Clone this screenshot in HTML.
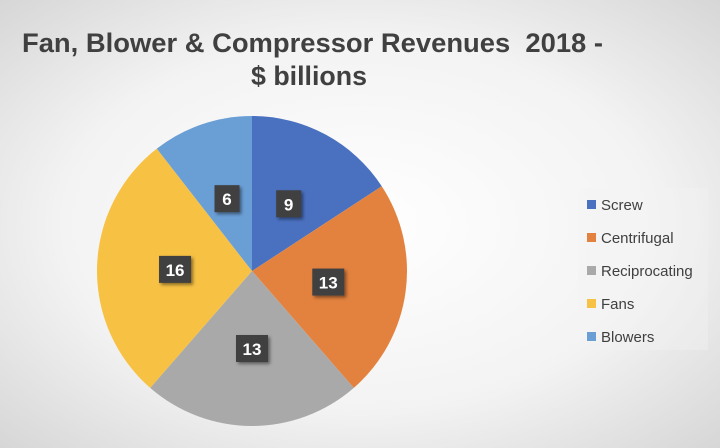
<!DOCTYPE html>
<html><head><meta charset="utf-8"><style>
html,body{margin:0;padding:0;width:720px;height:448px;overflow:hidden}
svg{display:block}
</style></head><body>
<svg id="chart" width="720" height="448" viewBox="0 0 720 448" xmlns="http://www.w3.org/2000/svg" font-family="'Liberation Sans', sans-serif">
<defs>
<radialGradient id="bg" cx="50%" cy="50%" r="75%">
<stop offset="0%" stop-color="#ffffff"/><stop offset="55%" stop-color="#f3f3f3"/><stop offset="100%" stop-color="#d2d2d2"/>
</radialGradient>
<filter id="sh" x="-30%" y="-30%" width="170%" height="170%"><feDropShadow dx="2" dy="2" stdDeviation="1.5" flood-color="#000" flood-opacity="0.45"/></filter>
</defs>
<rect width="720" height="448" fill="url(#bg)"/>
<text x="22" y="52" font-size="27" font-weight="bold" fill="#404040" textLength="581" lengthAdjust="spacingAndGlyphs">Fan, Blower &amp; Compressor Revenues&#160; 2018 -</text>
<text x="251" y="85" font-size="27" font-weight="bold" fill="#404040" textLength="116" lengthAdjust="spacingAndGlyphs">$ billions</text>
<g id="slices"></g>
<g id="labels"></g>
<rect x="578" y="188" width="130" height="162" fill="#f4f4f4" opacity="0.35"/>
<g id="legend"></g>
</svg>
<script>
const categories=["Screw","Centrifugal","Reciprocating","Fans","Blowers"];
const values=[9,13,13,16,6];
const sliceColors=["#4a70c0","#e3823f","#a9a9a9","#f7c143","#6a9fd6"];
const NS="http://www.w3.org/2000/svg";
const cx=252,cy=271,r=155,lr=77;
const total=values.reduce((a,b)=>a+b,0);
const gS=document.getElementById('slices'),gL=document.getElementById('labels'),gLeg=document.getElementById('legend');
function pt(a,rad){return [cx+rad*Math.sin(a),cy-rad*Math.cos(a)];}
let acc=0;
values.forEach((v,i)=>{
  const a0=acc/total*2*Math.PI;acc+=v;const a1=acc/total*2*Math.PI;
  const p0=pt(a0,r),p1=pt(a1,r);
  const p=document.createElementNS(NS,'path');
  p.setAttribute('d',`M${cx},${cy}L${p0[0]},${p0[1]}A${r},${r} 0 ${a1-a0>Math.PI?1:0} 1 ${p1[0]},${p1[1]}Z`);
  p.setAttribute('fill',sliceColors[i]);
  
  
  gS.appendChild(p);
  const m=pt((a0+a1)/2,lr);
  const g=document.createElementNS(NS,'g');
  
  
  const w=String(v).length>1?32:25;
  const b=document.createElementNS(NS,'rect');
  b.setAttribute('x',m[0]-w/2);b.setAttribute('y',m[1]-13);b.setAttribute('width',w);b.setAttribute('height',27);
  b.setAttribute('fill','#3f3f3f');b.setAttribute('filter','url(#sh)');
  g.appendChild(b);
  const t=document.createElementNS(NS,'text');
  t.setAttribute('x',m[0]);t.setAttribute('y',m[1]+7);t.setAttribute('text-anchor','middle');
  t.setAttribute('font-size','17');t.setAttribute('font-weight','bold');t.setAttribute('fill','#fff');
  t.textContent=v;g.appendChild(t);
  gL.appendChild(g);
});
categories.forEach((c,i)=>{
  const y=204+i*33;
  const g=document.createElementNS(NS,'g');
  
  
  const s=document.createElementNS(NS,'rect');
  s.setAttribute('x',587);s.setAttribute('y',y-4);s.setAttribute('width',9);s.setAttribute('height',9);s.setAttribute('fill',sliceColors[i]);
  g.appendChild(s);
  const t=document.createElementNS(NS,'text');
  t.setAttribute('x',601);t.setAttribute('y',y+6);t.setAttribute('font-size','15');t.setAttribute('fill','#404040');
  t.textContent=c;g.appendChild(t);
  gLeg.appendChild(g);
});
</script>
</body></html>
